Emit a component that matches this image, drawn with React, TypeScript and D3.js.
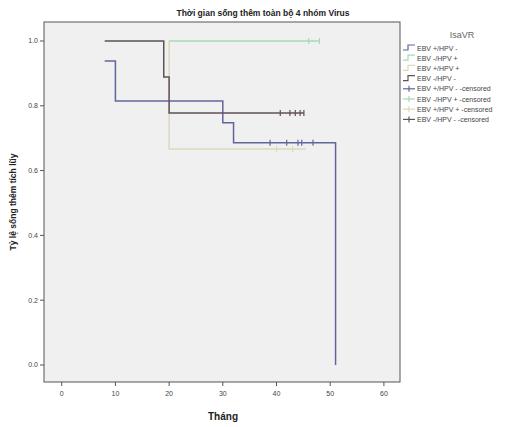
import React from 'react';
import * as d3 from 'd3';

// Kaplan-Meier steps (months, cumulative survival)
const groups = ['EBV +/HPV -', 'EBV -/HPV +', 'EBV +/HPV +', 'EBV -/HPV -'];
const groupColors = ['#62659c', '#a9d8b8', '#ddd8bc', '#5e5259'];

const blueTimes = [8, 10, 30, 32, 51];
const blueSurv = [0.938, 0.815, 0.748, 0.686, 0.0];
const blueCensored = [38.8, 41.9, 44, 44.7, 46.8];

const greenTimes = [20, 48];
const greenSurv = [1.0, 1.0];
const greenCensored = [46, 48];

const beigeTimes = [20, 20, 45.5];
const beigeSurv = [1.0, 0.667, 0.667];
const beigeCensored = [40, 43];

const maroonTimes = [8, 19, 20, 45.1];
const maroonSurv = [1.0, 0.889, 0.778, 0.778];
const maroonCensored = [40.7, 42.5, 43.5, 44.4, 45.1];

const xTicks = [0, 10, 20, 30, 40, 50, 60];
const yTicks = [0, 0.2, 0.4, 0.6, 0.8, 1.0];

const legendLabels = [
  'EBV +/HPV -',
  'EBV -/HPV +',
  'EBV +/HPV +',
  'EBV -/HPV -',
  'EBV +/HPV - -censored',
  'EBV -/HPV + -censored',
  'EBV +/HPV + -censored',
  'EBV -/HPV - -censored',
];

const W = 524;
const H = 427;
const frame = { left: 44, right: 400, top: 22, bottom: 382 };
const font = 'Liberation Sans, Arial, sans-serif';

export default function App() {
  const x = d3.scaleLinear().domain([-3.3, 63]).range([frame.left, frame.right]);
  const y = d3.scaleLinear().domain([-0.0525, 1.0586]).range([frame.bottom, frame.top]);

  const line = d3
    .line<[number, number]>()
    .x((d) => x(d[0]))
    .y((d) => y(d[1]))
    .curve(d3.curveStepAfter);

  const series = [
    { times: blueTimes, surv: blueSurv, cens: blueCensored },
    { times: greenTimes, surv: greenSurv, cens: greenCensored },
    { times: beigeTimes, surv: beigeSurv, cens: beigeCensored },
    { times: maroonTimes, surv: maroonSurv, cens: maroonCensored },
  ];

  // survival value at a censoring time (step function lookup)
  const survAt = (times: number[], surv: number[], t: number) => {
    let v = surv[0];
    times.forEach((tt, i) => {
      if (tt <= t) v = surv[i];
    });
    return v;
  };

  const drawOrder = [2, 1, 0, 3];

  return (
    <svg width={W} height={H} style={{ position: 'absolute', left: 0, top: 0, background: '#fff' }}>
      <text x={263} y={16} textAnchor="middle" fontFamily={font} fontSize={8.5} fontWeight="bold" fill="#222">
        Thời gian sống thêm toàn bộ 4 nhóm Virus
      </text>

      <rect
        x={frame.left}
        y={frame.top}
        width={frame.right - frame.left}
        height={frame.bottom - frame.top}
        fill="#f0f0f0"
        stroke="#555"
        strokeWidth={1}
      />

      {/* y axis */}
      {yTicks.map((t) => (
        <g key={t}>
          <line x1={frame.left - 4} x2={frame.left} y1={y(t)} y2={y(t)} stroke="#555" />
          <text x={frame.left - 6} y={y(t) + 2.5} textAnchor="end" fontFamily={font} fontSize={7} fill="#444">
            {t.toFixed(1)}
          </text>
        </g>
      ))}
      {/* x axis */}
      {xTicks.map((t) => (
        <g key={t}>
          <line x1={x(t)} x2={x(t)} y1={frame.bottom} y2={frame.bottom + 4} stroke="#555" />
          <text x={x(t)} y={frame.bottom + 14} textAnchor="middle" fontFamily={font} fontSize={7} fill="#444">
            {t}
          </text>
        </g>
      ))}

      <text x={223} y={420} textAnchor="middle" fontFamily={font} fontSize={10} fontWeight="bold" fill="#222">
        Tháng
      </text>
      <text
        transform={`translate(16,${(frame.top + frame.bottom) / 2}) rotate(-90)`}
        textAnchor="middle"
        fontFamily={font}
        fontSize={8.5}
        fontWeight="bold"
        fill="#222"
      >
        Tỷ lệ sống thêm tích lũy
      </text>

      {/* curves */}
      {drawOrder.map((gi) => {
        const s = series[gi];
        const pts = s.times.map((t, i) => [t, s.surv[i]] as [number, number]);
        return (
          <g key={groups[gi]}>
            <path d={line(pts) || ''} fill="none" stroke={groupColors[gi]} strokeWidth={1.5} />
            {s.cens.map((c, i) => {
              const cy = y(survAt(s.times, s.surv, c));
              return (
                <line key={i} x1={x(c)} x2={x(c)} y1={cy - 3} y2={cy + 3} stroke={groupColors[gi]} strokeWidth={1.2} />
              );
            })}
          </g>
        );
      })}

      {/* legend */}
      <text x={462} y={38} textAnchor="middle" fontFamily={font} fontSize={9} fill="#666">
        IsaVR
      </text>
      {legendLabels.map((lab, i) => {
        const ly = 48 + i * 10.2;
        const c = groupColors[i % 4];
        const lx = 403;
        return (
          <g key={lab}>
            {i < 4 ? (
              <path
                d={`M${lx},${ly + 2} H${lx + 5} V${ly - 3} H${lx + 12}`}
                fill="none"
                stroke={c}
                strokeWidth={1.2}
              />
            ) : (
              <g>
                <line x1={lx} x2={lx + 12} y1={ly} y2={ly} stroke={c} strokeWidth={1.2} />
                <line x1={lx + 6} x2={lx + 6} y1={ly - 3} y2={ly + 3} stroke={c} strokeWidth={1.2} />
              </g>
            )}
            <text x={lx + 14} y={ly + 2.5} fontFamily={font} fontSize={7} fill="#444">
              {lab}
            </text>
          </g>
        );
      })}
    </svg>
  );
}
